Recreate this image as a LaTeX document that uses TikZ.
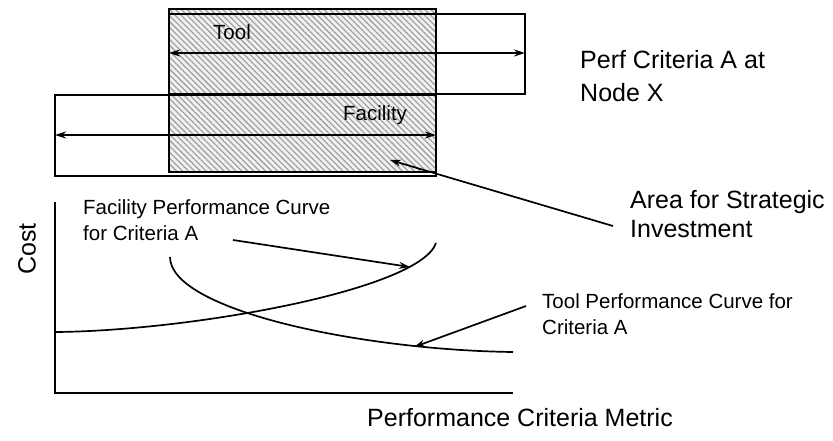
\documentclass[tikz,border=0pt]{standalone}
\usepackage{fontspec}
\setmainfont{Liberation Sans}
\usetikzlibrary{arrows.meta,patterns.meta}
\begin{document}
\begin{tikzpicture}[x=1pt,y=-1pt,
  bigtxt/.style={font=\fontsize{25}{30}\selectfont, inner sep=0pt, anchor=base west},
  smalltxt/.style={font=\fontsize{20.5}{26}\selectfont, inner sep=0pt, anchor=base west},
  boxline/.style={line width=2pt},
  arr/.style={line width=1.7pt, -{Stealth[length=11pt,width=7pt]}},
  dblarr/.style={line width=1.7pt, {Stealth[length=11pt,width=7pt]}-{Stealth[length=11pt,width=7pt]}},
  curveline/.style={line width=1.7pt},
]
\useasboundingbox (0,0) rectangle (833,440);
% hatched area
\coordinate (hatchTL) at (169,9);
\coordinate (hatchBR) at (436,172);
\fill[black!6] (hatchTL) rectangle (hatchBR);
\fill[pattern={Lines[angle=-45,distance=4.2pt,line width=1.1pt]}, pattern color=black!40] (hatchTL) rectangle (hatchBR);
% boxes
\coordinate (toolTL) at (169,14);
\coordinate (toolBR) at (525,94);
\coordinate (facTL) at (55,95);
\coordinate (facBR) at (436,176);
\draw[boxline] (toolTL) rectangle (toolBR);
\draw[boxline] (facTL) rectangle (facBR);
\draw[boxline] (hatchTL) rectangle (hatchBR);
% range arrows
\coordinate (toolL) at (169,53);
\coordinate (toolR) at (525,53);
\coordinate (facL) at (55,135);
\coordinate (facR) at (436,135);
\draw[dblarr] (toolL) -- (toolR);
\draw[dblarr] (facL) -- (facR);
% texts
\node[smalltxt] (tooltxt) at (213,39.5) {Tool};
\node[smalltxt] (factxt) at (343,120.5) {Facility};
\node[bigtxt] (perfA) at (580,68) {Perf Criteria A at};
\node[bigtxt] (perfB) at (580,101) {Node X};
\node[bigtxt] (areaA) at (630,208) {Area for Strategic};
\node[bigtxt] (areaB) at (630,237.5) {Investment};
\node[smalltxt] (fpcA) at (83,214.5) {Facility Performance Curve};
\node[smalltxt] (fpcB) at (83,240.5) {for Criteria A};
\node[smalltxt] (tpcA) at (542,308.5) {Tool Performance Curve for};
\node[smalltxt] (tpcB) at (542,334.5) {Criteria A};
\node[bigtxt] (metric) at (367,426) {Performance Criteria Metric};
\node[font=\fontsize{25}{30}\selectfont, inner sep=0pt, rotate=90] (cost) at (27,249) {Cost};
% axes
\coordinate (ytop) at (55,202);
\coordinate (origin) at (55,393);
\coordinate (xend) at (513,393);
\draw[line width=2pt] (ytop) -- (origin) -- (xend);
% curves
\coordinate (fcS) at (55,332);
\coordinate (fcE) at (436,243);
\coordinate (tcS) at (170,257);
\coordinate (tcE) at (513,352);
\draw[curveline] (fcS) .. controls (190,331) and (420,290) .. (fcE);
\draw[curveline] (tcS) .. controls (170,310) and (360,350) .. (tcE);
% pointers
\coordinate (areaS) at (613,226);
\coordinate (areaT) at (390,160);
\coordinate (fpcS) at (233,240);
\coordinate (fpcT) at (410,267);
\coordinate (tpcS) at (526,306);
\coordinate (tpcT) at (414,347);
\draw[arr] (areaS) -- (areaT);
\draw[arr] (fpcS) -- (fpcT);
\draw[arr] (tpcS) -- (tpcT);
\end{tikzpicture}
\end{document}
